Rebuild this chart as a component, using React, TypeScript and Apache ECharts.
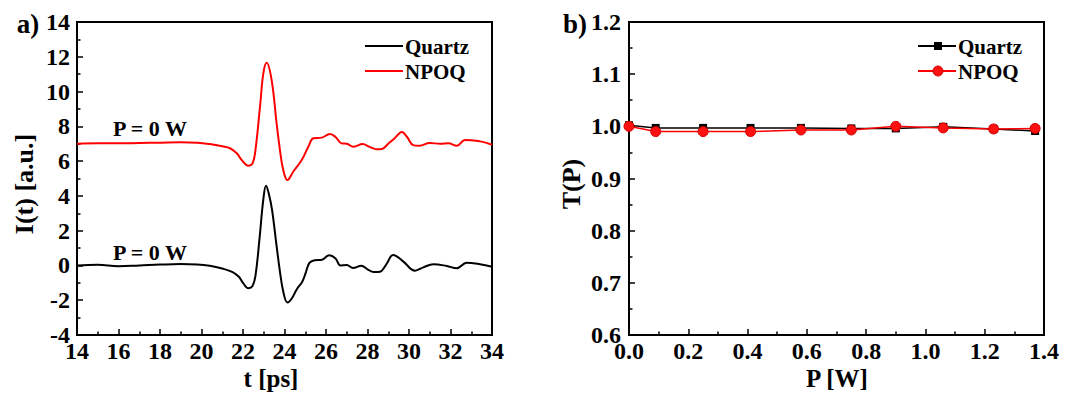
import React, { useEffect, useRef } from "react";
import * as echarts from "echarts";

// Panel a) time traces
const tQuartz = [14.0, 15.0, 16.0, 17.0, 18.0, 19.0, 19.8, 20.4, 21.0, 21.5, 21.8, 22.0, 22.26, 22.45, 22.6, 22.8, 22.98, 23.11, 23.25, 23.4, 23.6, 23.78, 23.94, 24.14, 24.35, 24.6, 24.85, 25.0, 25.2, 25.45, 25.8, 26.15, 26.45, 26.7, 27.0, 27.3, 27.7, 28.0, 28.3, 28.6, 28.9, 29.24, 29.73, 30.29, 30.69, 31.17, 31.82, 32.3, 32.78, 33.42, 34.0];
const iQuartz = [0.0, 0.04, -0.04, 0.0, 0.05, 0.08, 0.06, -0.02, -0.18, -0.38, -0.65, -1.0, -1.31, -1.2, -0.6, 1.6, 3.8, 4.59, 4.1, 3.2, 1.3, -0.35, -1.5, -2.13, -1.9, -1.35, -0.95, -0.5, 0.15, 0.3, 0.33, 0.58, 0.42, 0.0, 0.02, -0.15, -0.02, -0.22, -0.38, -0.36, 0.05, 0.6, 0.22, -0.3, -0.11, 0.07, -0.03, -0.16, 0.16, 0.07, -0.08];
const tNpoq = [14.0, 15.0, 16.0, 17.0, 18.0, 19.0, 19.8, 20.4, 21.0, 21.37, 21.7, 21.94, 22.26, 22.45, 22.58, 22.82, 22.98, 23.14, 23.38, 23.62, 23.78, 23.94, 24.14, 24.42, 24.83, 25.15, 25.39, 25.8, 26.19, 26.45, 26.75, 27.0, 27.32, 27.77, 28.1, 28.44, 28.7, 29.0, 29.3, 29.66, 29.9, 30.2, 30.5, 31.0, 31.5, 31.9, 32.3, 32.7, 33.0, 33.5, 34.0];
const iNpoq = [7.0, 7.02, 7.02, 7.04, 7.06, 7.08, 7.06, 6.98, 6.85, 6.74, 6.45, 6.06, 5.74, 5.85, 6.45, 9.13, 11.05, 11.66, 10.66, 8.17, 6.64, 5.49, 4.91, 5.39, 6.06, 6.83, 7.31, 7.35, 7.56, 7.4, 7.02, 7.0, 6.83, 6.98, 6.82, 6.68, 6.7, 7.0, 7.3, 7.67, 7.4, 6.92, 6.88, 7.04, 7.0, 7.02, 6.88, 7.22, 7.2, 7.12, 6.94];

// Panel b) transmission vs power
const power = [0.0, 0.09, 0.25, 0.41, 0.58, 0.75, 0.9, 1.06, 1.23, 1.37];
const tpQuartz = [1.002, 0.997, 0.997, 0.997, 0.997, 0.996, 0.996, 0.999, 0.995, 0.991];
const tpNpoq = [1.0, 0.99, 0.99, 0.99, 0.993, 0.993, 1.0, 0.997, 0.995, 0.996];

const xTicksA = { min: 14, max: 34, interval: 2 };
const yTicksA = { min: -4, max: 14, interval: 2 };
const xTicksB = { min: 0, max: 1.4, interval: 0.2 };
const yTicksB = { min: 0.6, max: 1.2, interval: 0.1 };

const FONT = "'Liberation Serif', 'Times New Roman', serif";

const zip = (a: number[], b: number[]) => a.map((v, i) => [v, b[i]]);

export default function App() {
  const ref = useRef<HTMLDivElement>(null);
  useEffect(() => {
    document.body.style.margin = "0";
    const chart = echarts.init(ref.current!, undefined, { renderer: "svg" });
    const axisCommon = (fmt?: (v: number) => string, margin = 7) => ({
      axisLine: { show: true, onZero: false, lineStyle: { color: "#000", width: 2 } },
      axisTick: { show: true, inside: true, length: 6, lineStyle: { color: "#000", width: 1.5 } },
      minorTick: { show: true, splitNumber: 2, length: 3.5, lineStyle: { color: "#000", width: 1.5 } },
      splitLine: { show: false },
      axisLabel: {
        color: "#000",
        fontFamily: FONT,
        fontWeight: "bold",
        fontSize: 24,
        margin,
        formatter: fmt,
      },
    });
    const txt = (text: string, x: number, y: number, size: number, rotation = 0) => ({
      type: "text",
      x,
      y,
      rotation,
      style: {
        text,
        fill: "#000",
        font: `bold ${size}px ${FONT}`,
        align: "center",
        verticalAlign: "middle",
      },
    });
    const legendLine = (x1: number, x2: number, y: number, color: string) => ({
      type: "line",
      shape: { x1, y1: y, x2, y2: y },
      style: { stroke: color, lineWidth: 2 },
    });
    const legendText = (text: string, x: number, y: number) => ({
      type: "text",
      x,
      y,
      style: {
        text,
        fill: "#000",
        font: `bold 21px ${FONT}`,
        align: "left",
        verticalAlign: "middle",
      },
    });
    chart.setOption({
      animation: false,
      grid: [
        { left: 77, top: 22, width: 415, height: 313, show: true, borderColor: "#000", borderWidth: 2 },
        { left: 629, top: 22, width: 415, height: 313, show: true, borderColor: "#000", borderWidth: 2 },
      ],
      xAxis: [
        { type: "value", gridIndex: 0, ...xTicksA, ...axisCommon(undefined, 4) },
        { type: "value", gridIndex: 1, ...xTicksB, ...axisCommon((v: number) => v.toFixed(1), 4) },
      ],
      yAxis: [
        { type: "value", gridIndex: 0, ...yTicksA, ...axisCommon(undefined, 7) },
        { type: "value", gridIndex: 1, ...yTicksB, ...axisCommon((v: number) => v.toFixed(1), 8) },
      ],
      series: [
        {
          name: "Quartz",
          type: "line",
          xAxisIndex: 0,
          yAxisIndex: 0,
          data: zip(tQuartz, iQuartz),
          symbol: "none",
          smooth: 0.4,
          lineStyle: { color: "#000", width: 2 },
        },
        {
          name: "NPOQ",
          type: "line",
          xAxisIndex: 0,
          yAxisIndex: 0,
          data: zip(tNpoq, iNpoq),
          symbol: "none",
          smooth: 0.4,
          lineStyle: { color: "#ff0000", width: 2 },
        },
        {
          name: "Quartz ",
          type: "line",
          xAxisIndex: 1,
          yAxisIndex: 1,
          data: zip(power, tpQuartz),
          symbol: "rect",
          symbolSize: 8,
          itemStyle: { color: "#000" },
          lineStyle: { color: "#000", width: 1.5 },
        },
        {
          name: "NPOQ ",
          type: "line",
          xAxisIndex: 1,
          yAxisIndex: 1,
          data: zip(power, tpNpoq),
          symbol: "circle",
          symbolSize: 10,
          itemStyle: { color: "#ff1010", borderColor: "#d00000", borderWidth: 1 },
          lineStyle: { color: "#ff0000", width: 1.5 },
        },
      ],
      graphic: [
        txt("a)", 28, 24, 27),
        txt("b)", 575, 24, 27),
        txt("I(t) [a.u.]", 24, 184, 26, Math.PI / 2),
        txt("t [ps]", 271, 378, 25),
        txt("T(P)", 571, 184, 26, Math.PI / 2),
        txt("P [W]", 837, 378, 25),
        txt("P = 0 W", 150, 128, 22),
        txt("P = 0 W", 150, 252, 22),
        legendLine(365, 403, 46, "#000"),
        legendText("Quartz", 405, 47),
        legendLine(365, 403, 71, "#ff0000"),
        legendText("NPOQ", 405, 72),
        legendLine(918, 956, 46, "#000"),
        { type: "rect", shape: { x: 934, y: 42, width: 8, height: 8 }, style: { fill: "#000" } },
        legendText("Quartz", 958, 47),
        legendLine(918, 956, 71, "#ff0000"),
        { type: "circle", shape: { cx: 938, cy: 71, r: 5 }, style: { fill: "#ff1010", stroke: "#d00000", lineWidth: 1 } },
        legendText("NPOQ", 958, 72),
      ],
    });
    return () => chart.dispose();
  }, []);
  return <div ref={ref} style={{ width: 1073, height: 401 }} />;
}
